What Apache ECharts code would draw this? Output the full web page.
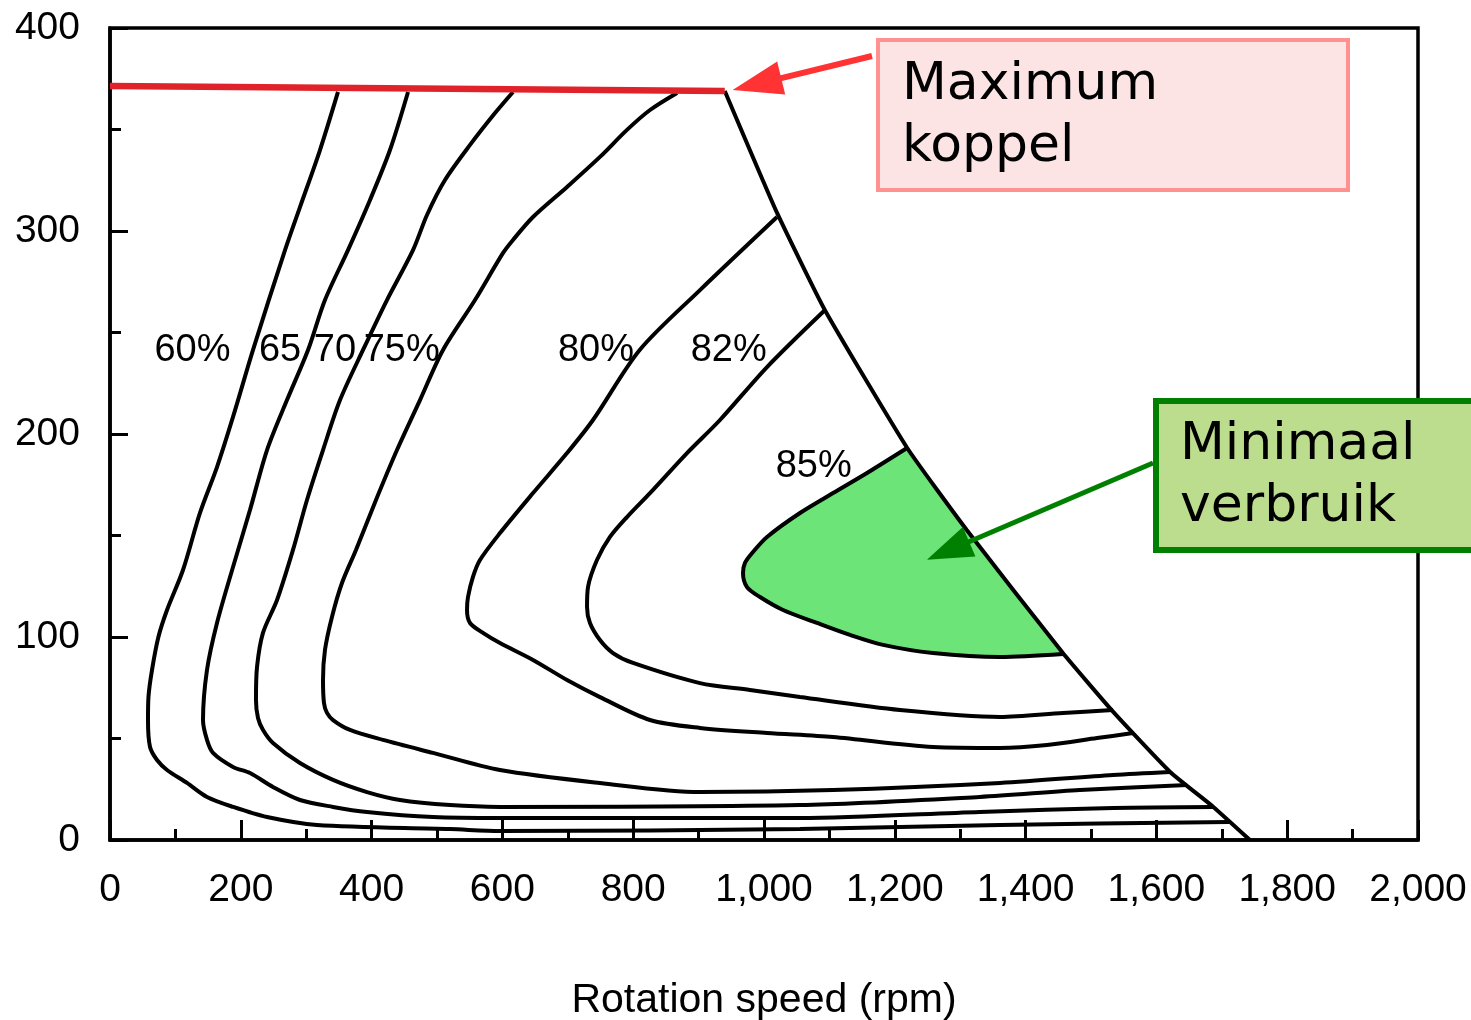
<!DOCTYPE html>
<html><head><meta charset="utf-8">
<script src="https://cdn.jsdelivr.net/npm/echarts@6/dist/echarts.min.js"></script>
<style>html,body{margin:0;padding:0;background:#fff}#c{width:1471px;height:1020px}</style>
</head><body><div id="c"></div>
<script>
// ---- tick labels ----
const xTickLabels = ['0','200','400','600','800','1,000','1,200','1,400','1,600','1,800','2,000'];
const yTickLabels = ['0','100','200','300','400'];

// ---- curves: [rpm, torque] ----
const maxTorque = [[0,371.4],[940,369.0]];
const powerLimit = [[940,369],[1020,308.9],[1093,261.1],[1219,193.1],[1310,152.7],[1457,92.1],[1534,63.1],[1621,33.5],[1687,16.3],[1743,0]];

const c60 = [[348.6,368.5],[321.1,339.9],[290.5,311.8],[267.6,290.6],[218.7,241.4],[188.1,208.4],[163.6,183.7],[137.6,161.1],[111.6,133.0],[87.2,113.3],[74.0,100.0],[64.2,83.7],[58.8,70.4],[58.1,59.1],[61.2,45.8],[71.9,39.4],[87.2,34.5],[117.7,28.1],[148.3,21.2],[188.1,16.3],[240.1,11.3],[316.5,7.4],[519.9,5.4],[596.3,4.4],[1055,5.4],[1360.9,7.4],[1711,8.9]];
const c65 = [[455.7,368.5],[428.1,339.9],[397.6,315.3],[363.9,290.6],[328.7,266.0],[302.8,241.4],[270.6,216.7],[240.1,192.1],[214.1,162.6],[188.1,134.5],[163.6,106.9],[148.3,83.7],[142.2,59.1],[148.3,49.3],[157.5,42.9],[188.1,36.0],[214.1,33.0],[249.2,26.1],[290.5,19.7],[341.0,16.3],[393.0,13.8],[493.9,11.3],[596.3,10.8],[1055,10.8],[1330,13.8],[1534,15.8],[1687,16.3]];
const c70 = [[616.2,368.5],[588.7,358.1],[550.5,342.4],[512.2,325.1],[484.7,307.9],[463.3,290.6],[423.5,266.0],[386.9,241.4],[351.7,216.7],[325.7,192.1],[301.2,167.5],[279.8,142.9],[255.4,118.2],[233.9,102.0],[224.8,85.2],[223.2,69.0],[226.3,60.1],[234.0,54.2],[249.2,47.8],[290.5,37.9],[341.0,29.6],[393.0,23.6],[443.4,19.7],[519.9,17.2],[596.3,16.3],[1055,17.2],[1330,21.2],[1483,24.6],[1647,27.1]];
const c75 = [[867.0,368.0],[825.7,359.6],[790.5,349.8],[749.2,336.5],[698.8,321.7],[646.8,306.9],[616.2,295.6],[601.0,289.2],[558.1,266.0],[509.2,241.4],[474.0,216.7],[438.8,192.1],[406.7,167.5],[376.1,142.9],[354.7,126.6],[339.4,109.9],[328.7,93.6],[325.7,78.8],[327.2,67.5],[331.8,62.6],[341.0,59.1],[367.0,54.2],[417.4,49.3],[493.9,42.9],[596.3,34.5],[749.2,28.1],[902.1,23.6],[1105.5,24.6],[1360.9,28.1],[1533.6,32.0],[1620.8,33.5]];
const c80 = [[1019.9,306.9],[902.1,270.9],[809.9,241.4],[738.5,206.9],[698.8,190.6],[646.8,170.9],[596.3,151.2],[565.7,137.9],[555.0,129.6],[547.4,119.7],[545.9,113.3],[550.5,106.9],[570.3,102.0],[596.3,97.0],[646.8,88.7],[698.8,78.8],[749.2,70.4],[825.7,59.1],[902.1,55.2],[1004.6,52.7],[1105.5,50.7],[1258.4,45.8],[1360.9,45.3],[1432.7,46.8],[1509.2,50.2],[1564.2,52.7]];
const c82 = [[1093.3,261.1],[1004.6,233.0],[932.7,206.9],[882.3,190.6],[825.7,170.9],[790.5,159.1],[764.5,149.3],[744.6,137.9],[730.9,124.6],[729.4,114.8],[733.9,106.9],[749.2,98.5],[769.1,92.1],[799.7,87.2],[902.1,77.3],[978.6,73.9],[1055.0,70.4],[1208.0,64.0],[1360.9,60.6],[1457.2,62.6],[1533.6,64.0]];
const c85 = [[1218.7,193.1],[1157.5,180.8],[1105.5,170.9],[1055.0,161.1],[1004.6,149.3],[983.2,141.9],[970.9,136.5],[967.9,131.5],[974.0,124.6],[993.9,119.7],[1029.1,113.3],[1081.0,106.9],[1131.5,101.0],[1182.0,96.1],[1258.4,92.1],[1360.9,90.1],[1457.2,91.6]];
const bestZoneEdge = [[1457,92.1],[1310,152.7],[1219,193.1]];

// ---- contour labels ----
const contourNames = ['60%','65','70','75%','80%','82%','85%'];
const contourLabelRpm = [126,260,344,446,743,946,1076];
const contourLabelTorque = [241,241,241,241,241,241,184];

// ---- annotations ----
const noteMax = ['Maximum','koppel'];
const noteMin = ['Minimaal','verbruik'];
const noteMaxTarget = [952,369.5];
const noteMinTarget = [1249,138];

const FONT = 'Liberation Sans, Arial, sans-serif';
const chart = echarts.init(document.getElementById('c'));

function contour(data){
  return {type:'line', data:data, symbol:'none', smooth:0.3, silent:true, z:3,
    lineStyle:{color:'#000', width:4}};
}

const option = {
  animation:false,
  backgroundColor:'#fff',
  grid:{left:110, right:53, top:28, bottom:180, outerBoundsMode:'none', containLabel:false,
    show:true, borderColor:'#000', borderWidth:3.5, backgroundColor:'transparent'},
  xAxis:{type:'value', min:0, max:2000, interval:200,
    axisLine:{show:true, lineStyle:{color:'#000', width:3.5}},
    axisTick:{show:true, inside:true, length:20, lineStyle:{color:'#000', width:3}},
    minorTick:{show:true, splitNumber:2, length:11, lineStyle:{color:'#000', width:3}},
    splitLine:{show:false},
    axisLabel:{fontSize:39, color:'#000', fontFamily:FONT, margin:31,
      formatter:function(v){return xTickLabels[Math.round(v/200)];}},
    name:'Rotation speed (rpm)', nameLocation:'middle', nameGap:140,
    nameTextStyle:{fontSize:41, color:'#000', fontFamily:FONT}
  },
  yAxis:{type:'value', min:0, max:400, interval:100,
    axisLine:{show:true, lineStyle:{color:'#000', width:3.5}},
    axisTick:{show:true, inside:true, length:18, lineStyle:{color:'#000', width:3}},
    minorTick:{show:true, splitNumber:2, length:11, lineStyle:{color:'#000', width:3}},
    splitLine:{show:false},
    axisLabel:{fontSize:39, color:'#000', fontFamily:FONT, margin:30,
      formatter:function(v){return yTickLabels[Math.round(v/100)];}}
  },
  series:[
    {type:'custom', coordinateSystem:'cartesian2d', silent:true, z:1,
      data:[[c85[0][0], c85[0][1]]],
      renderItem:function(params, api){
        const pts = c85.concat(bestZoneEdge).map(function(p){return api.coord(p);});
        return {type:'polygon', shape:{points:pts}, style:{fill:'#6ce477', stroke:'none'}};
      }},
    contour(c60), contour(c65), contour(c70), contour(c75), contour(c80), contour(c82), contour(c85),
    {type:'line', data:powerLimit, symbol:'none', smooth:0.15, silent:true, z:4,
      lineStyle:{color:'#000', width:4}},
    {type:'line', data:maxTorque, symbol:'none', silent:true, z:5,
      lineStyle:{color:'#e0232a', width:6.5}},
    {type:'custom', coordinateSystem:'cartesian2d', silent:true, z:6,
      data:contourNames.map(function(n,i){return [contourLabelRpm[i], contourLabelTorque[i], i];}),
      renderItem:function(params, api){
        const p = api.coord([api.value(0), api.value(1)]);
        return {type:'text', x:p[0], y:p[1],
          style:{text:contourNames[api.value(2)], fill:'#000', font:'38px Liberation Sans, Arial, sans-serif', align:'center', verticalAlign:'middle'}};
      }}
  ]
};
chart.setOption(option);

function arrow(tail, tip, color, w, headLen, headHalf){
  const dx=tip[0]-tail[0], dy=tip[1]-tail[1], L=Math.hypot(dx,dy), ux=dx/L, uy=dy/L;
  const bx=tip[0]-ux*headLen, by=tip[1]-uy*headLen;
  const px=-uy, py=ux;
  return [
    {type:'line', z:100, shape:{x1:tail[0], y1:tail[1], x2:bx+ux*2, y2:by+uy*2}, style:{stroke:color, lineWidth:w}},
    {type:'polygon', z:100, shape:{points:[tip,[bx+px*headHalf, by+py*headHalf],[bx-px*headHalf, by-py*headHalf]]}, style:{fill:color}}
  ];
}

const tipMax = chart.convertToPixel({gridIndex:0}, noteMaxTarget);
const tipMin = chart.convertToPixel({gridIndex:0}, noteMinTarget);
const noteFont = '52px "DejaVu Sans", sans-serif';

const graphics = [
  {type:'rect', z:90, shape:{x:878, y:40, width:470, height:150}, style:{fill:'#fde4e4', stroke:'#ff9191', lineWidth:4}},
  {type:'text', z:91, style:{x:902, y:85, text:noteMax[0], font:noteFont, fill:'#000', verticalAlign:'middle'}},
  {type:'text', z:91, style:{x:902, y:147, text:noteMax[1], font:noteFont, fill:'#000', verticalAlign:'middle'}},
  {type:'rect', z:90, shape:{x:1156, y:401, width:400, height:149}, style:{fill:'#bddd8e', stroke:'#007f00', lineWidth:6}},
  {type:'text', z:91, style:{x:1180, y:445, text:noteMin[0], font:noteFont, fill:'#000', verticalAlign:'middle'}},
  {type:'text', z:91, style:{x:1180, y:507, text:noteMin[1], font:noteFont, fill:'#000', verticalAlign:'middle'}}
].concat(arrow([872,56], tipMax, '#ff3333', 6, 50, 17))
 .concat(arrow([1153,463], tipMin, '#008000', 5, 46, 16));

chart.setOption({graphic:graphics});
</script>
</body></html>
